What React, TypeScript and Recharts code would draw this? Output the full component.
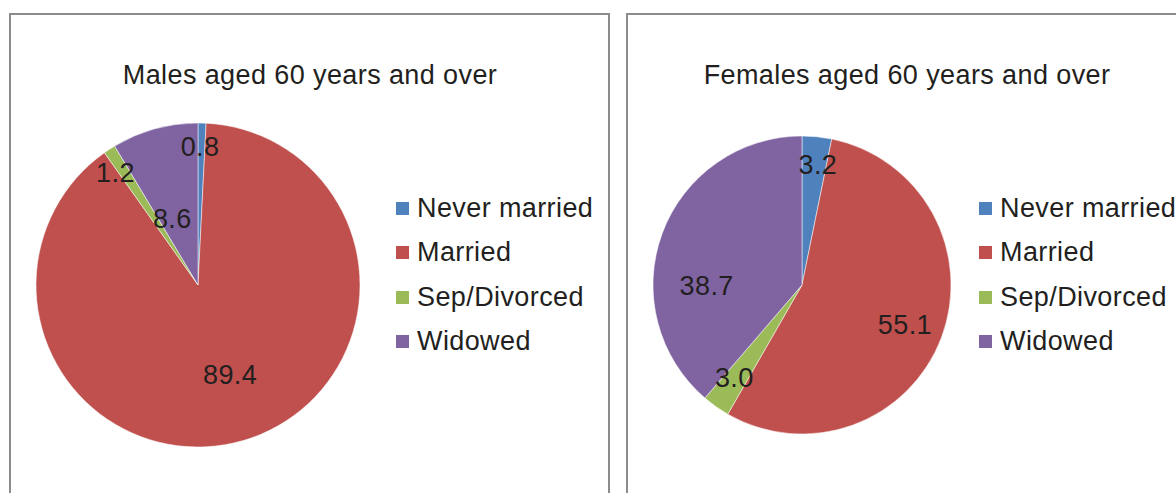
import { PieChart, Pie, Cell, Legend } from 'recharts'

const categories = ['Never married', 'Married', 'Sep/Divorced', 'Widowed']
const maleValues = [0.8, 89.4, 1.2, 8.6]
const femaleValues = [3.2, 55.1, 3.0, 38.7]

const COLORS = ['#4F81BD', '#C0504D', '#9BBB59', '#8064A2']
const FONT = '"Liberation Sans", Arial, Helvetica, sans-serif'
const RAD = Math.PI / 180

// label placement inside each slice: fraction of radius, angle nudge (deg, clockwise)
const maleLabelR = [0.85, 0.59, 0.86, 0.44]
const maleLabelShift = [-0.6, -3.4, -3.2, -5.7]
const femaleLabelR = [0.81, 0.74, 0.77, 0.64]
const femaleLabelShift = [1.8, 0.3, 0.9, -20.7]

const toData = (values: number[]) => categories.map((name, i) => ({ name, value: values[i] }))

const makeLabel = (rs: number[], shifts: number[]) => (props: any) => {
  const { cx, cy, midAngle, outerRadius, index, value } = props
  const a = (midAngle - shifts[index]) * RAD
  const r = outerRadius * rs[index]
  const x = cx + r * Math.cos(a)
  const y = cy - r * Math.sin(a)
  return (
    <text
      x={x}
      y={y}
      textAnchor="middle"
      dominantBaseline="central"
      fill="#231f20"
      fontSize={27}
      letterSpacing={0.4}
      fontFamily={FONT}
    >
      {value.toFixed(1)}
    </text>
  )
}

const renderLegend = (props: any) => {
  const items = [...(props.payload || [])].sort(
    (a: any, b: any) => categories.indexOf(a.value) - categories.indexOf(b.value),
  )
  return (
    <div style={{ fontFamily: FONT, fontSize: 27, letterSpacing: 0.4, color: '#231f20' }}>
      {items.map((entry: any, i: number) => (
        <div key={i} style={{ display: 'flex', alignItems: 'center', height: 44.5, whiteSpace: 'nowrap' }}>
          <span style={{ display: 'inline-block', width: 13, height: 13, background: entry.color, marginRight: 8 }} />
          <span>{entry.value}</span>
        </div>
      ))}
    </div>
  )
}

function Panel({
  left, title, titleX, values, cx, r, legendLeft, labelR, labelShift,
}: {
  left: number; title: string; titleX: number; values: number[]; cx: number; r: number
  legendLeft: number; labelR: number[]; labelShift: number[]
}) {
  const data = toData(values)
  return (
    <div
      style={{
        position: 'absolute', left, top: 13, width: 601, height: 520,
        border: '2px solid #8c8c8c', boxSizing: 'border-box', background: '#fff',
      }}
    >
      <div
        style={{
          position: 'absolute', left: titleX - 250, width: 500, top: 45, textAlign: 'center',
          fontFamily: FONT, fontSize: 27, letterSpacing: 0.4, color: '#231f20', whiteSpace: 'nowrap',
        }}
      >
        {title}
      </div>
      <div style={{ position: 'absolute', left: 0, top: 0 }}>
        <PieChart width={597} height={500}>
          <Pie
            data={data}
            dataKey="value"
            nameKey="name"
            cx={cx}
            cy={265}
            outerRadius={r}
            startAngle={90}
            endAngle={-270}
            stroke="#ffffff"
            strokeWidth={0.5}
            labelLine={false}
            label={makeLabel(labelR, labelShift)}
            isAnimationActive={false}
          >
            {data.map((_, i) => <Cell key={i} fill={COLORS[i]} />)}
          </Pie>
          <Legend
            content={renderLegend}
            wrapperStyle={{ position: 'absolute', left: legendLeft, top: 171, width: 260, bottom: 'auto', right: 'auto' }}
          />
        </PieChart>
      </div>
    </div>
  )
}

export default function App() {
  return (
    <div style={{ position: 'absolute', left: 0, top: 0, width: 1176, height: 493, overflow: 'hidden', background: '#fff' }}>
      <Panel
        left={9}
        title="Males aged 60 years and over"
        titleX={299}
        values={maleValues}
        cx={182}
        r={162}
        legendLeft={385}
        labelR={maleLabelR}
        labelShift={maleLabelShift}
      />
      <Panel
        left={626}
        title="Females aged 60 years and over"
        titleX={279}
        values={femaleValues}
        cx={169}
        r={149}
        legendLeft={351}
        labelR={femaleLabelR}
        labelShift={femaleLabelShift}
      />
    </div>
  )
}
